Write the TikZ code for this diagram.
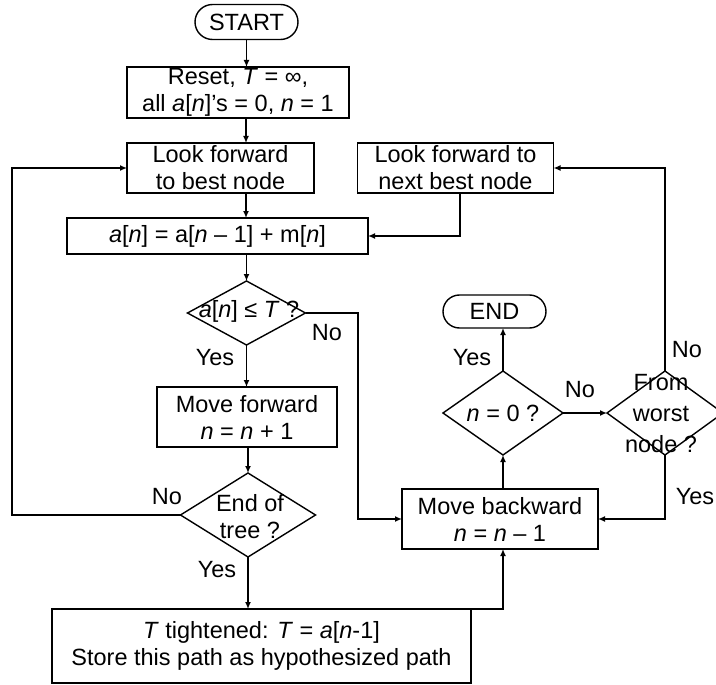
\documentclass[tikz,border=0pt]{standalone}
\usepackage{fontspec}
\setmainfont{Liberation Sans}
\usetikzlibrary{shapes.geometric,shapes.misc,arrows.meta}
\newcommand{\iv}[1]{\textit{#1}}
\begin{document}
\begin{tikzpicture}[x=1pt,y=-1pt,
  font=\fontsize{23.5}{27}\selectfont,
  every node/.style={inner sep=0pt,outer sep=0pt},
  flow/.style={line width=1.4pt,-{Latex[length=7pt,width=6pt]}},
  procbox/.style={draw,line width=1.4pt,rectangle,align=center},
  termbox/.style={draw,line width=1.4pt,rounded rectangle,align=center},
  decbox/.style={draw,line width=1.4pt,diamond},
  lbl/.style={align=center}]
\useasboundingbox (0,0) rectangle (716,685);

% process boxes
\node[termbox,minimum width=103pt,minimum height=35pt] (start) at (246.5,22) {START};
\node[procbox,minimum width=222pt,minimum height=51pt] (reset) at (238,92.5)
  {Reset, \iv{T} = ∞,\\ all \iv{a}[\iv{n}]'s = 0, \iv{n} = 1};
\node[procbox,minimum width=187pt,minimum height=50pt] (lfb) at (220.5,168)
  {Look forward\\ to best node};
\node[procbox,minimum width=196pt,minimum height=50pt] (lfn) at (455.5,168)
  {Look forward to\\ next best node};
\node[procbox,minimum width=301pt,minimum height=36pt] (upd) at (217.5,236)
  {\iv{a}[\iv{n}] = a[\iv{n} – 1] + m[\iv{n}]};
\node[procbox,minimum width=180pt,minimum height=60pt] (mf) at (247,417)
  {Move forward\\ \iv{n} = \iv{n} + 1};
\node[procbox,minimum width=196pt,minimum height=60pt] (mb) at (500,519)
  {Move backward\\ \iv{n} = \iv{n} – 1};
\node[procbox,minimum width=419pt,minimum height=74pt] (tt) at (261.5,646)
  {\iv{T} tightened: \iv{T} = \iv{a}[\iv{n}-1]\\ Store this path as hypothesized path};
\node[termbox,minimum width=103pt,minimum height=33pt] (end) at (494.5,311.5) {END};

% decisions (shape and text set separately so the text may overrun the outline)
\node[decbox,minimum width=118pt,minimum height=64pt] (d1) at (246.5,313) {};
\node[lbl] (d1t) at (249,311) {\iv{a}[\iv{n}] ≤ \iv{T} ?};
\node[decbox,minimum width=135pt,minimum height=84pt] (d2) at (248,515) {};
\node[lbl] (d2t) at (250,517) {End of\\ tree ?};
\node[decbox,minimum width=120pt,minimum height=84pt] (d3) at (503,413) {};
\node[lbl] (d3t) at (503,413) {\iv{n} = 0 ?};
\node[decbox,minimum width=116pt,minimum height=84pt] (d4) at (665,413) {};
\node[lbl,font=\fontsize{23.5}{31}\selectfont] (d4t) at (661,414) {From\\ worst\\ node ?};

% branch labels
\node (l1) at (327,333) {No};
\node (l2) at (215,358) {Yes};
\node (l3) at (167,497) {No};
\node (l4) at (217,570) {Yes};
\node (l5) at (472,358) {Yes};
\node (l6) at (580,390) {No};
\node (l7) at (687,350) {No};
\node (l8) at (695,497) {Yes};

% main column
\coordinate (colA) at (246,0);
\draw[flow] (start.south) -- (start.south |- reset.north);
\draw[flow] (reset.south -| colA) -- (lfb.north -| colA);
\draw[flow] (lfb.south -| colA) -- (upd.north -| colA);
\draw[flow] (upd.south -| d1.north) -- (d1.north);
\draw[flow] (d1.south) -- (d1.south |- mf.north);
\draw[flow] (mf.south -| d2.north) -- (d2.north);
\draw[flow] (d2.south) -- (d2.south |- tt.north);

% loops back
\coordinate (lx) at (12,0);
\draw[flow] (d2.west) -- (d2.west -| lx) |- (lfb.west);
\coordinate (rx) at (358,0);
\draw[flow] (d1.east) -- (d1.east -| rx) |- (mb.west);
\coordinate (lfnx) at (460,0);
\draw[flow] (lfn.south -| lfnx) |- (upd.east);

% backward branch
\draw[flow] (tt.north east) -| (d3.south |- mb.south);
\draw[flow] (mb.north -| d3.south) -- (d3.south);
\draw[flow] (d3.north) -- (d3.north |- end.south);
\draw[flow] (d3.east) -- (d4.west);
\draw[flow] (d4.north) |- (lfn.east);
\draw[flow] (d4.south) |- (mb.east);
\end{tikzpicture}
\end{document}
